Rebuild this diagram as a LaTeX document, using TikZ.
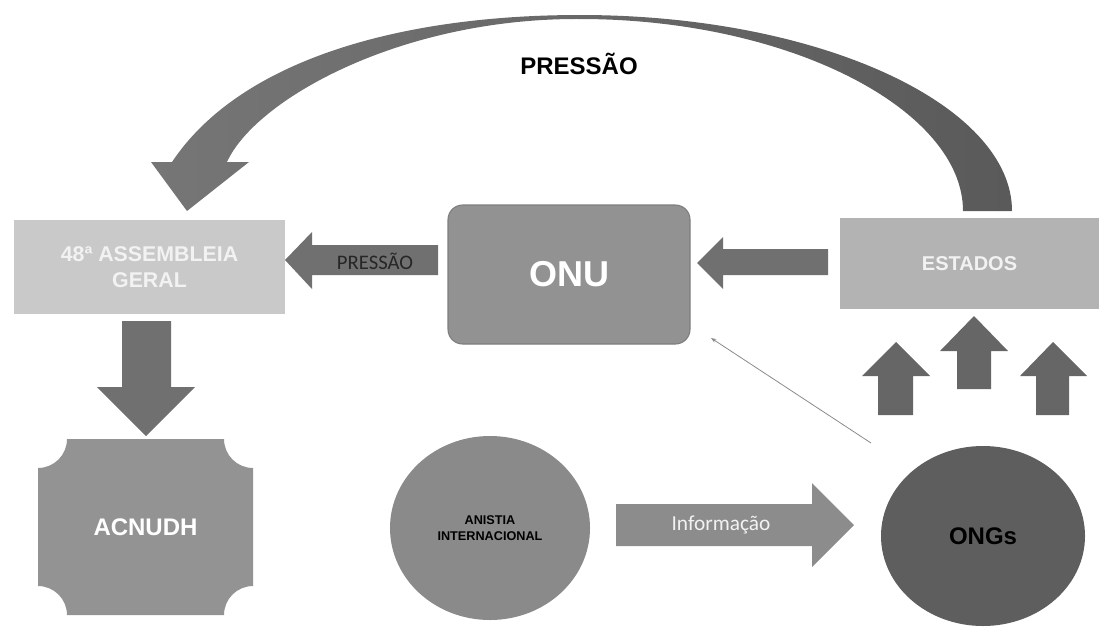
\documentclass[tikz,border=0pt]{standalone}
\usepackage{fontspec}
\setmainfont{Liberation Sans}
\newfontfamily\carlitofont{Carlito}
\usetikzlibrary{shapes.geometric,arrows.meta}
\definecolor{assemfill}{HTML}{C9C9C9}
\definecolor{estfill}{HTML}{B3B3B3}
\definecolor{onufill}{HTML}{929292}
\definecolor{onudraw}{HTML}{7E7E7E}
\definecolor{acnfill}{HTML}{939393}
\definecolor{anifill}{HTML}{8A8A8A}
\definecolor{ongfill}{HTML}{5E5E5E}
\definecolor{arrowgray}{HTML}{707070}
\definecolor{uparrow}{HTML}{666666}
\definecolor{infofill}{HTML}{8C8C8C}
\definecolor{softwhite}{HTML}{F2F2F2}
\definecolor{arcleft}{HTML}{767676}
\definecolor{arcright}{HTML}{5A5A5A}
\definecolor{thinline}{HTML}{8A8A8A}
\tikzset{
  blockarrow/.style={fill=arrowgray, draw=none},
  upblock/.style={fill=uparrow, draw=none},
  boxnode/.style={rectangle, inner sep=0pt, align=center, font=\bfseries\fontsize{16}{19}\selectfont, text=softwhite},
  roundnode/.style={ellipse, inner sep=0pt, align=center, font=\bfseries\fontsize{18}{20}\selectfont, text=black},
  arrowtext/.style={font=\carlitofont\fontsize{15.5}{18}\selectfont, inner sep=0pt},
}
\begin{document}
\begin{tikzpicture}[x=0.75pt,y=-0.75pt]
\useasboundingbox (0,0) rectangle (1099,626);

% big curved arrow (ESTADOS -> Assembleia)
\path[left color=arcleft, right color=arcright]
  (1012,211) .. controls (1012,105) and (820,15) .. (580,15)
  .. controls (400,15) and (240,60) .. (172,162)
  -- (151,162) -- (187,211) -- (249,162) -- (227,162)
  .. controls (255,100) and (400,18) .. (580,19)
  .. controls (790,19) and (963,110) .. (963,211) -- cycle;
\node[font=\bfseries\fontsize{18}{20}\selectfont, inner sep=0pt] (toplabel) at (579,64) {PRESSÃO};

% boxes
\node[boxnode, fill=assemfill, minimum width=203.25pt, minimum height=70.5pt] (assembleia) at (149.5,267) {48ª ASSEMBLEIA\\GERAL};
\node[boxnode, fill=onufill, draw=onudraw, line width=0.8pt, rounded corners=11pt, minimum width=181.5pt, minimum height=104.25pt, font=\bfseries\fontsize{27}{30}\selectfont, text=white] (onu) at (569,274.5) {ONU};
\node[boxnode, fill=estfill, minimum width=194.25pt, minimum height=68.25pt, font=\bfseries\fontsize{15}{17}\selectfont] (estados) at (969.5,263.5) {ESTADOS};

% ACNUDH (rectangle with concave corners)
\path[fill=acnfill]
  (67,439) -- (224,439)
  .. controls (224,455) and (237,468) .. (253,468)
  -- (253,586)
  .. controls (237,586) and (224,599) .. (224,615)
  -- (67,615)
  .. controls (67,599) and (54,586) .. (38,586)
  -- (38,468)
  .. controls (54,468) and (67,455) .. (67,439) -- cycle;
\node[boxnode, font=\bfseries\fontsize{18}{20}\selectfont, text=white] (acnudh) at (145.5,527) {ACNUDH};

% circles
\node[roundnode, fill=anifill, minimum width=150pt, minimum height=138pt, font=\bfseries\fontsize{9.5}{11.5}\selectfont] (anistia) at (490,528) {ANISTIA\\INTERNACIONAL};
\node[roundnode, fill=ongfill, minimum width=153pt, minimum height=135pt] (ongs) at (983,536) {ONGs};

% PRESSAO small arrow (ONU -> Assembleia)
\path[blockarrow] (438,245) -- (312,245) -- (312,232) -- (285,260) -- (312,289) -- (312,275) -- (438,275) -- cycle;
\node[arrowtext, text=black!85] (pressao) at (375,261) {PRESSÃO};

% ESTADOS -> ONU arrow
\path[blockarrow] (828,249) -- (723,249) -- (723,237) -- (697,263) -- (723,289) -- (723,275) -- (828,275) -- cycle;

% Assembleia -> ACNUDH arrow
\path[blockarrow] (122,321) -- (171,321) -- (171,387) -- (195,387) -- (146,436) -- (97,387) -- (122,387) -- cycle;

% three up arrows under ESTADOS
\path[upblock] (878,415) -- (878,376) -- (862,376) -- (896,342) -- (930,376) -- (913,376) -- (913,415) -- cycle;
\path[upblock] (957,389) -- (957,351) -- (940,351) -- (974,316) -- (1008,351) -- (991,351) -- (991,389) -- cycle;
\path[upblock] (1036,415) -- (1036,376) -- (1020,376) -- (1053,342) -- (1087,376) -- (1069,376) -- (1069,415) -- cycle;

% Informacao arrow (Anistia -> ONGs)
\path[fill=infofill] (616,504) -- (812,504) -- (812,483) -- (854,525) -- (812,567) -- (812,546) -- (616,546) -- cycle;
\node[arrowtext, font=\carlitofont\fontsize{16}{18}\selectfont, text=softwhite] (info) at (721,525) {Informação};

% thin arrow ONGs -> ONU
\coordinate (thinA) at (871,443);
\coordinate (thinB) at (711,338);
\draw[thinline, line width=0.6pt, -{Stealth[length=4pt,width=3pt]}] (thinA) -- (thinB);
\end{tikzpicture}
\end{document}
